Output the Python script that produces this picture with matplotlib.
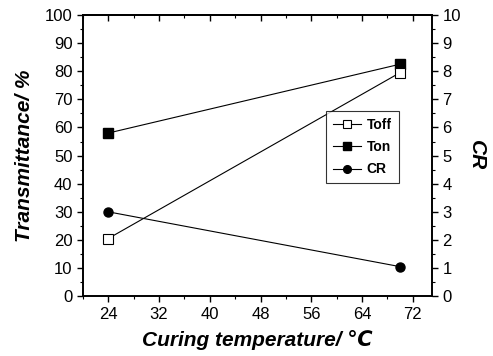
import numpy as np
import matplotlib.pyplot as plt
from matplotlib.ticker import MultipleLocator

# data
temp = [24, 70]
toff = [20.5, 79.5]
ton = [58.0, 82.5]
cr = [3.0, 1.05]

plt.rcParams['font.family'] = ['Liberation Sans', 'DejaVu Sans']

fig, ax = plt.subplots(figsize=(4.93, 3.56), dpi=100)
fig.subplots_adjust(left=0.168, right=0.876, top=0.958, bottom=0.168)

ax.plot(temp, toff, color='black', lw=0.8, marker='s', ms=6.5,
        mfc='white', mec='black', mew=0.8, label='Toff', zorder=3)
ax.plot(temp, ton, color='black', lw=0.8, marker='s', ms=6.5,
        mfc='black', mec='black', label='Ton', zorder=2)
ax2 = ax.twinx()
ax2.plot(temp, cr, color='black', lw=0.8, marker='o', ms=6.5,
         mfc='black', mec='black', label='CR')

ax.set_xlim(20, 75)
ax.set_ylim(0, 100)
ax2.set_ylim(0, 10)
ax.set_xticks(np.arange(24, 73, 8))
ax.xaxis.set_minor_locator(MultipleLocator(4))
ax.set_yticks(np.arange(0, 101, 10))
ax.yaxis.set_minor_locator(MultipleLocator(5))
ax2.set_yticks(np.arange(0, 11, 1))
ax2.yaxis.set_minor_locator(MultipleLocator(0.5))

ax.tick_params(axis='both', which='major', direction='out', length=4,
               width=1, labelsize=12)
ax.tick_params(axis='both', which='minor', direction='out', length=2.5,
               width=0.8)
ax2.tick_params(axis='y', which='major', direction='out', length=4,
                width=1, labelsize=12)
ax2.tick_params(axis='y', which='minor', direction='out', length=2.5,
                width=0.8)

# top axis: ticks pointing inward, no labels
top = ax.secondary_xaxis('top')
top.set_xticks(np.arange(24, 73, 8))
top.xaxis.set_minor_locator(MultipleLocator(4))
top.tick_params(which='major', direction='in', length=4, width=1,
                labeltop=False)
top.tick_params(which='minor', direction='in', length=2.5, width=0.8)
top.spines['top'].set_linewidth(1.2)

for a in (ax, ax2):
    for s in a.spines.values():
        s.set_linewidth(1.2)

lab = dict(fontsize=15, style='italic', weight='bold')
ax.set_xlabel('Curing temperature/ \u2103', labelpad=6, **lab)
ax.set_ylabel('Transmittance/ %', labelpad=8, **lab)
ax2.set_ylabel('CR', rotation=270, labelpad=18, **lab)

lines, labels = ax.get_legend_handles_labels()
lines2, labels2 = ax2.get_legend_handles_labels()
leg = ax.legend(lines + lines2, labels + labels2, loc='center right',
                bbox_to_anchor=(0.905, 0.53), frameon=True, fancybox=False,
                edgecolor='black', prop={'weight': 'bold', 'size': 10},
                handlelength=2.0, handletextpad=0.4, borderpad=0.5,
                borderaxespad=0, labelspacing=0.6, markerscale=0.85)
leg.get_frame().set_linewidth(0.8)

fig.savefig('out.png', dpi=100)
